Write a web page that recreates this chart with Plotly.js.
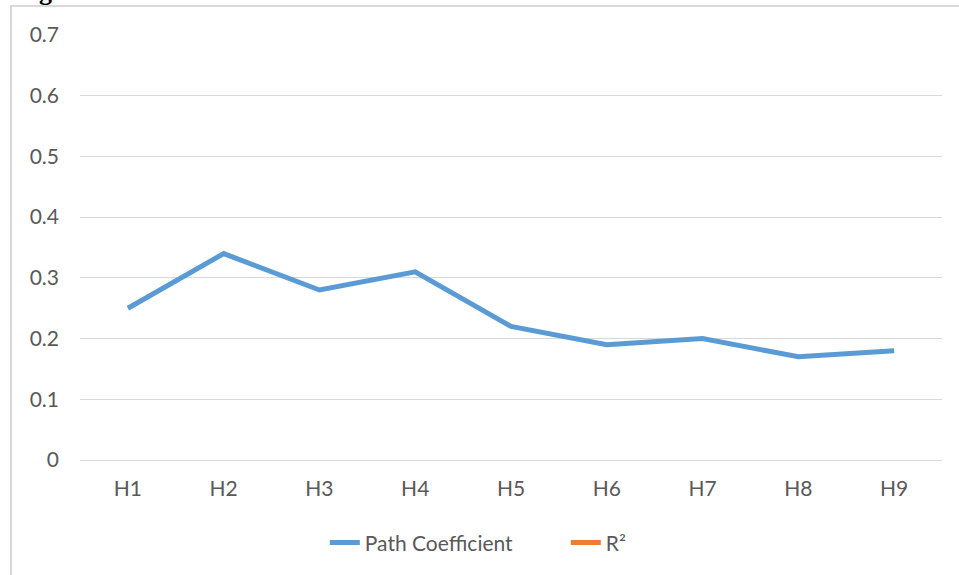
<!DOCTYPE html>
<html>
<head>
<meta charset="utf-8">
<script src="https://cdn.plot.ly/plotly-3.0.1.min.js"></script>
<style>
  html, body { margin: 0; padding: 0; background: #ffffff; overflow: hidden; }
  #wrap { position: relative; width: 959px; height: 575px; }
  #chart { position: absolute; left: 0; top: 0; width: 959px; height: 575px; }
  #frame { position: absolute; left: 10px; top: 5px; width: 960px; height: 580px;
           border-left: 2px solid #d9d9d9; border-top: 2px solid #d9d9d9; pointer-events: none; }
  #cap { position: absolute; left: 0; top: 0; pointer-events: none; }
</style>
</head>
<body>
<div id="wrap">
  <div id="chart"></div>
  <div id="frame"></div>
  <svg id="cap" width="959" height="20"><text x="16" y="0" font-family="Liberation Serif" font-weight="bold" font-size="26" fill="#000">Figure</text></svg>
</div>
<script>
const categories = ["H1", "H2", "H3", "H4", "H5", "H6", "H7", "H8", "H9"];
const pathCoefficient = [0.25, 0.34, 0.28, 0.31, 0.22, 0.19, 0.20, 0.17, 0.18];
const rSquared = [null, null, null, null, null, null, null, null, null];
const yTicks = [0, 0.1, 0.2, 0.3, 0.4, 0.5, 0.6, 0.7];
const yTickLabels = ["0", "0.1", "0.2", "0.3", "0.4", "0.5", "0.6", "0.7"];

const font = { family: "Lato, 'Open Sans', sans-serif", size: 21, color: "#595959" };

const traces = [
  { x: categories, y: pathCoefficient, type: "scatter", mode: "lines", name: "Path Coefficient",
    line: { color: "#5b9bd5", width: 5 }, hoverinfo: "x+y" },
  { x: categories, y: rSquared, type: "scatter", mode: "lines", name: "R²",
    line: { color: "#ed7d31", width: 5 }, connectgaps: false }
];

const layout = {
  width: 959, height: 575,
  margin: { l: 80, r: 17, t: 35, b: 115 },
  paper_bgcolor: "#ffffff", plot_bgcolor: "#ffffff",
  font: font,
  showlegend: true,
  legend: { orientation: "h", x: 0.284, xanchor: "left", y: -0.195, yanchor: "middle",
            font: font, itemwidth: 30, entrywidth: 196, entrywidthmode: "pixels",
            bgcolor: "rgba(0,0,0,0)" },
  xaxis: { type: "category", range: [-0.5, 8.5], showgrid: false, zeroline: false,
           showline: false, ticks: "", ticklabelstandoff: 14, tickfont: font, fixedrange: true },
  yaxis: { range: [0, 0.7], tickvals: yTicks, ticktext: yTickLabels, showgrid: true,
           gridcolor: "#d9d9d9", gridwidth: 1, zeroline: true, zerolinecolor: "#d9d9d9",
           zerolinewidth: 1, showline: false, ticks: "", ticklabelstandoff: 20,
           tickfont: font, fixedrange: true }
};

Plotly.newPlot("chart", traces, layout, { displayModeBar: false, staticPlot: true });
</script>
</body>
</html>
